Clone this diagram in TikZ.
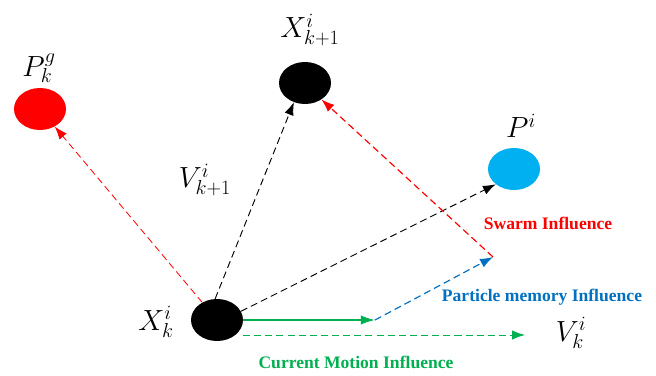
\documentclass[tikz,border=0pt]{standalone}
\usepackage{fontspec}
\newfontfamily\tnr{Liberation Serif}
\usetikzlibrary{arrows.meta,shapes.geometric}
\definecolor{pred}{RGB}{255,0,0}
\definecolor{pblue}{RGB}{0,176,240}
\definecolor{pgreen}{RGB}{0,176,80}
\definecolor{mblue}{RGB}{0,112,192}
\begin{document}
\begin{tikzpicture}[x=0.03cm,y=-0.03cm,
  dot/.style={ellipse, minimum width=1.56cm, minimum height=1.26cm, inner sep=0pt},
  lab/.style={font=\fontsize{24}{28}\selectfont, inner sep=0pt},
  infl/.style={font=\tnr\bfseries\fontsize{15}{17}\selectfont, inner sep=0pt},
  dsh/.style={dash pattern=on 6pt off 3.5pt, line width=0.8pt, -{Latex[length=11pt,width=8pt]}}
]
\useasboundingbox (0,0) rectangle (656,376);
\node[dot, fill=pred] (pg) at (40,109) {};
\node[dot, fill=black] (xk1) at (305,83) {};
\node[dot, fill=pblue] (pi) at (514,169) {};
\node[dot, fill=black] (xk) at (217,320) {};

\node[lab] (lpg) at (39,68) {$P_k^g$};
\node[lab] (lxk1) at (310,30) {$X_{k+1}^i$};
\node[lab] (lpi) at (521,126) {$P^i$};
\node[lab] (lxk) at (156,322) {$X_k^i$};
\node[lab] (lvk1) at (205,180) {$V_{k+1}^i$};
\node[lab] (lvk) at (571,333) {$V_k^i$};

\coordinate (g1) at (375,320);
\coordinate (b1) at (493,257);
\coordinate (g2) at (525,335);
\coordinate (xs) at (243,335);

\draw[dsh, pred, line width=0.7pt] (xk.130) -- (pg.-50);
\draw[dsh, black] (xk.95) -- (xk1.-120);
\draw[dsh, black] (xk.20) -- (pi.-140);
\draw[pgreen, line width=1.4pt, -{Latex[length=12pt,width=8pt]}] (xk.0) -- (g1);
\draw[dsh, mblue, line width=1pt] (g1) -- (b1);
\draw[dsh, pred, line width=1pt] (b1) -- (xk1.-45);
\draw[dsh, pgreen] (xs) -- (g2);

\node[infl, text=pred] (sw) at (548,223) {Swarm Influence};
\node[infl, text=mblue] (pm) at (542,297) {Particle memory Influence};
\node[infl, text=pgreen] (cm) at (356,362) {Current Motion Influence};
\end{tikzpicture}
\end{document}
